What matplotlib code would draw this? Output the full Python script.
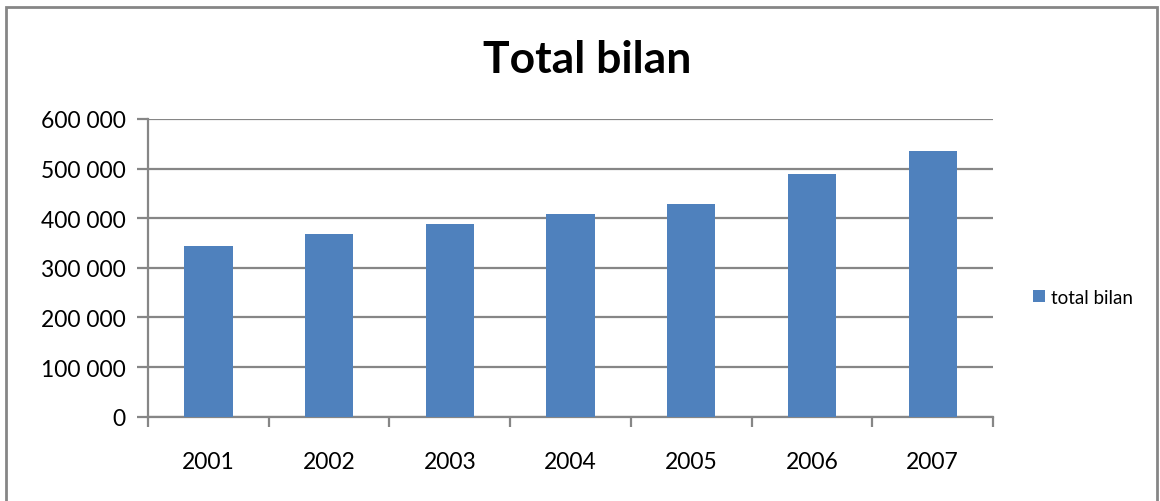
import matplotlib.pyplot as plt
from matplotlib.patches import Rectangle
from matplotlib.ticker import FuncFormatter, FixedLocator

years = ['2001', '2002', '2003', '2004', '2005', '2006', '2007']
total_bilan = [343500, 367700, 388500, 409300, 428800, 489300, 535000]
y_ticks = [0, 100000, 200000, 300000, 400000, 500000, 600000]

plt.rcParams['font.family'] = ['Lato', 'DejaVu Sans']

W, H = 1160, 502
fig = plt.figure(figsize=(W / 100, H / 100), dpi=100)

# zone de trace en pixels
left, right, top, bottom = 148, 993, 120, 417.7
ax = fig.add_axes([left / W, 1 - bottom / H, (right - left) / W, (bottom - top) / H])

grey = '#868686'
x = list(range(len(years)))
ax.bar(x, total_bilan, width=0.4, color='#4F81BD', label='total bilan', zorder=3)

ax.set_xlim(-0.5, len(years) - 0.5)
ax.set_ylim(0, 600000)
ax.set_yticks(y_ticks)
ax.yaxis.set_major_formatter(FuncFormatter(lambda v, p: f'{int(v):,}'.replace(',', ' ')))
ax.grid(axis='y', color=grey, linewidth=1.6, zorder=0)

ax.set_xticks(x)
ax.set_xticklabels(years)
ax.xaxis.set_minor_locator(FixedLocator([i - 0.5 for i in range(len(years) + 1)]))
ax.tick_params(axis='x', which='major', length=0, pad=25, labelsize=16.5)
ax.tick_params(axis='x', which='minor', length=7, width=1.6, color=grey, direction='out')
ax.tick_params(axis='y', length=8, width=1.6, color=grey, direction='out', pad=8, labelsize=16.5)

for s in ['top', 'right']:
    ax.spines[s].set_visible(False)
for s in ['left', 'bottom']:
    ax.spines[s].set_color(grey)
    ax.spines[s].set_linewidth(1.6)

fig.text(587 / W, 1 - 60 / H, 'Total bilan', ha='center', va='center',
         fontsize=32, fontweight='bold')

fig.legend(loc='center left', bbox_to_anchor=(1016 / W, 1 - 298 / H), frameon=False,
           fontsize=13.5, handlelength=0.65, handleheight=0.65, handletextpad=0.3)

# cadre du graphique
fig.patches.append(Rectangle((6 / W, -0.1), (1157 - 6) / W, 1.1 - 8 / H,
                             transform=fig.transFigure, fill=False,
                             edgecolor=grey, linewidth=2))

plt.savefig('out.png', dpi=100)
